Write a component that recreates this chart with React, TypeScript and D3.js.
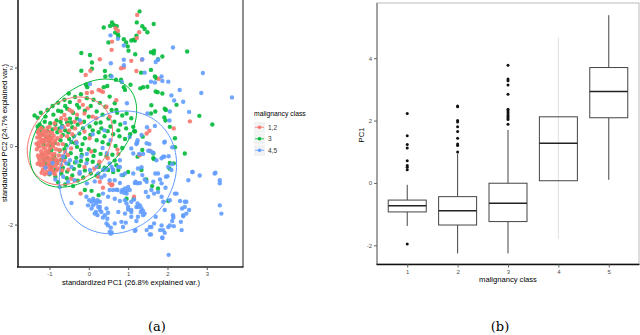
import * as d3 from "d3";
import { useRef, useEffect } from "react";

// ---- panel (a): PCA biplot ----
const groups = ["1,2", "3", "4,5"];
const groupColors = ["#F8766D", "#00BA38", "#619CFF"];
const pcXTicks = [-1, 0, 1, 2, 3];
const pcYTicks = [-2, 0, 2];

const redPoints: [number, number][] = [
  [-1.28, 0.41], [-1.21, 0.46], [-1.13, 0.4], [-1.05, 0.47], [-0.99, 0.36], [-1.26, 0.31], [-1.17, 0.34], [-1.09, 0.27],
  [-1.01, 0.25], [-0.93, 0.33], [-1.31, 0.22], [-1.23, 0.19], [-1.14, 0.16], [-1.06, 0.21], [-0.97, 0.17], [-0.89, 0.26],
  [-1.27, 0.1], [-1.18, 0.07], [-1.11, 0.12], [-1.03, 0.04], [-0.95, 0.08], [-0.86, 0.13], [-1.25, -0.01], [-1.15, -0.04],
  [-1.07, 0.01], [-0.99, -0.06], [-0.91, -0.01], [-1.21, -0.13], [-1.12, -0.18], [-1.03, -0.14], [-0.95, -0.2], [-1.29, -0.24],
  [-1.19, -0.28], [-1.1, -0.25], [-1.01, -0.31], [-0.92, -0.27], [-0.84, -0.33], [-0.76, -0.24], [-1.25, -0.37], [-1.15, -0.4],
  [-1.06, -0.36], [-0.98, -0.43], [-0.89, -0.39], [-0.81, -0.45], [-0.73, -0.36], [-1.22, -0.49], [-1.13, -0.53], [-1.04, -0.47],
  [-0.95, -0.56], [-0.86, -0.51], [-0.78, -0.57], [-1.17, -0.61], [-1.08, -0.66], [-0.99, -0.6], [-0.9, -0.68], [-0.82, -0.62],
  [-1.32, -0.08], [-1.33, 0.06], [-1.3, -0.45], [-0.7, -0.48], [-0.72, 0.38], [-0.8, 0.2], [-0.66, 0.05], [-0.6, -0.15],
  [-0.55, 0.25], [-0.68, -0.62], [-0.62, -0.38], [-0.85, 0.45], [-0.78, 0.05], [-0.74, -0.1],
  [-1.24, -0.44], [-1.16, -0.46], [-1.09, -0.55], [-1.0, -0.51], [-0.93, -0.47], [-1.27, -0.3], [-1.2, -0.2], [-1.14, -0.33],
  [-1.05, -0.22], [-0.97, -0.35], [-0.87, -0.2], [-0.8, -0.38], [-1.2, -0.68], [-1.12, -0.72], [-1.02, -0.7], [-0.94, -0.62],
  [-0.86, -0.72], [-1.3, 0.35], [-1.24, 0.26], [-1.16, 0.28], [-1.08, 0.36], [-1.02, 0.14], [-0.93, 0.2], [-0.9, 0.05],
  [-1.2, 0.14], [-1.28, 0.0], [-1.1, -0.1], [-0.83, -0.08], [-0.7, 0.25], [-0.64, 0.48], [-0.5, 0.4], [-0.42, 0.3],
  [-0.35, 0.45], [-0.58, 0.68], [-0.3, 0.8], [-0.2, 0.6], [-0.66, -0.25], [-0.52, -0.6],
  [-0.49, 0.92], [-0.43, 0.88], [-0.24, 1.15], [-0.15, 1.05], [-0.03, 0.96], [-0.11, 0.83], [0.1, 0.75], [0.19, 0.71],
  [-0.36, 0.62], [-0.53, 0.54], [-0.7, 0.71], [-0.62, 0.79], [-0.87, 0.58], [-1.0, 0.49], [-0.11, 0.37], [0.02, 0.2],
  [-0.32, 0.11], [-0.45, -0.06], [-0.53, -0.23], [0.06, -0.14], [0.27, -0.4], [0.48, -0.31], [0.14, -0.57], [-0.11, -0.53],
  [-0.24, -0.7], [-0.45, -0.83], [-0.05, 1.35], [0.08, 1.37],
  [1.23, 3.34], [0.68, 3.0], [0.74, 2.94], [1.28, 2.9], [0.59, 2.66], [1.22, 2.75], [0.58, 2.45], [0.28, 2.21],
  [1.08, 2.17], [1.35, 2.2], [1.21, 1.91], [0.04, 1.92], [-0.08, 1.81], [0.82, 1.98], [0.89, 2.0], [1.78, 1.71],
  [0.25, 1.43], [0.3, 1.41], [0.36, 1.38], [2.57, 0.63], [2.16, 0.45], [1.54, 0.39], [1.47, 0.32], [1.55, -0.12],
  [1.28, -0.23], [0.7, 1.17], [0.45, 1.0], [0.53, 0.75], [0.24, -0.78], [0.28, -0.91], [0.53, -0.95], [0.58, -1.0],
  [0.36, -1.06], [1.15, -1.29], [0.73, -0.09], [0.75, -0.2], [1.3, -0.23], [-0.21, -1.21], [0.6, -0.98],
];

const greenPoints: [number, number][] = [
  [-1.38, 0.78], [-1.3, 0.72], [-1.22, 0.85], [-1.05, 0.92], [-0.92, 1.02], [-0.78, 1.1], [-0.62, 1.18], [-0.48, 1.12],
  [-0.35, 1.25], [-0.2, 1.32], [-0.05, 1.22], [0.12, 1.18], [0.28, 1.1], [0.42, 1.0], [0.58, 0.92], [0.72, 0.85],
  [0.85, 0.78], [-0.9, 0.8], [-0.7, 0.88], [-0.55, 0.95], [-0.4, 0.85], [-0.25, 0.98], [-0.1, 0.9], [0.05, 1.02],
  [0.2, 0.88], [0.35, 0.8], [0.5, 0.7], [0.65, 0.62], [0.8, 0.55], [0.95, 0.45],
  [-1.25, 0.55], [-1.12, 0.62], [-0.98, 0.58], [-0.82, 0.65], [-0.68, 0.52], [-0.55, 0.6], [-0.42, 0.48], [-0.28, 0.55],
  [-0.12, 0.62], [0.02, 0.5], [0.18, 0.58], [0.32, 0.45], [0.48, 0.38], [0.62, 0.3], [0.78, 0.25], [0.92, 0.18],
  [1.05, 0.3], [-1.2, 0.3], [-1.05, 0.38], [-0.92, 0.42], [-0.8, 0.35], [-0.66, 0.28], [-0.52, 0.35], [-0.38, 0.25],
  [-0.24, 0.32], [-0.1, 0.2], [0.04, 0.28], [0.2, 0.15], [0.35, 0.1], [0.5, 0.05], [0.68, 0.0], [0.85, -0.05],
  [-1.15, 0.05], [-1.0, 0.12], [-0.86, 0.08], [-0.72, 0.15], [-0.58, 0.02], [-0.44, 0.1], [-0.3, -0.02], [-0.16, 0.05],
  [0.0, -0.08], [0.15, -0.12], [0.3, -0.2], [0.45, -0.25], [0.6, -0.22],
  [-1.18, -0.22], [-1.02, -0.15], [-0.88, -0.25], [-0.74, -0.12], [-0.6, -0.28], [-0.46, -0.18], [-0.32, -0.3], [-0.18, -0.22],
  [-0.04, -0.35], [0.1, -0.4], [0.25, -0.48], [0.4, -0.55], [-1.1, -0.45], [-0.95, -0.52], [-0.8, -0.42], [-0.66, -0.55],
  [-0.52, -0.45], [-0.38, -0.58], [-0.24, -0.5], [-0.1, -0.62], [0.05, -0.7], [0.2, -0.75], [-1.0, -0.72], [-0.85, -0.78],
  [-0.7, -0.7], [-0.56, -0.82], [-0.42, -0.75], [-0.28, -0.88], [-0.14, -0.8], [-0.6, -0.98], [-0.4, -1.02], [-0.78, -0.92],
  [-1.08, 0.22], [-0.96, 0.02], [-0.9, -0.35], [-1.05, -0.3], [-0.75, 0.45], [-0.62, -0.08], [-0.48, 0.7], [-0.35, -0.42],
  [-1.25, 0.4], [-1.18, 0.48], [-1.0, 0.25], [-0.85, 0.55], [-0.72, 0.62], [-0.6, 0.4], [-0.45, 0.6], [-0.3, 0.7],
  [-0.15, 0.45], [0.1, 0.4], [0.25, 0.35], [0.4, 0.25], [-0.5, 0.18], [-0.35, 0.08], [-0.2, -0.1], [-0.7, -0.35],
  [-0.85, -0.6], [-0.55, -0.65], [-0.2, -0.38], [0.12, -0.25], [-0.95, -0.1], [-1.15, -0.35], [-0.78, 0.9], [-0.6, 1.02],
  [-0.3, 1.05], [0.0, 0.75], [0.3, 0.6], [0.55, 0.5], [0.75, 0.4], [-1.3, 0.5], [-1.1, 0.75],
  [0.7, 0.92], [0.96, 0.83], [1.08, 0.71], [1.13, 0.49], [1.17, 0.37], [0.53, 1.26], [0.66, 1.09],
  [1.29, 3.43], [1.22, 3.15], [1.65, 3.11], [0.59, 3.15], [0.64, 3.08], [0.54, 3.06], [0.71, 3.05], [0.38, 3.02],
  [1.36, 3.05], [1.42, 2.98], [1.49, 2.9], [0.67, 2.89], [0.74, 2.85], [0.75, 2.79], [1.21, 2.81], [1.17, 2.69],
  [0.5, 2.64], [0.89, 2.72], [0.95, 2.64], [1.08, 2.69], [1.14, 2.71], [0.99, 2.54], [1.01, 2.43], [-0.19, 2.37],
  [0.03, 2.32], [1.18, 2.34], [1.58, 2.39], [1.66, 2.43], [1.65, 2.36], [1.76, 2.21], [1.87, 2.28], [2.5, 2.41],
  [0.08, 2.13], [-0.19, 1.92], [0.08, 1.97], [0.41, 1.91], [1.33, 1.87], [1.58, 1.94], [0.55, 1.79], [0.69, 1.69],
  [0.42, 1.77], [0.82, 1.69], [1.68, 1.77], [1.72, 1.73], [-0.07, 1.56], [-0.04, 1.5], [0.38, 1.5], [0.47, 1.53],
  [0.89, 1.5], [0.92, 1.43], [1.06, 1.56], [1.31, 1.47], [1.38, 1.5], [1.49, 1.51], [1.7, 1.39], [1.75, 1.37],
  [1.87, 1.34], [-0.51, 1.34], [2.23, 1.05], [1.59, 1.04], [1.93, 0.95], [1.96, 0.92], [1.69, 0.88], [1.58, 0.83],
  [2.81, 0.77], [1.92, 0.73], [1.95, 0.65], [3.14, 0.55], [2.06, 0.49], [1.17, 0.38], [1.37, 0.24], [2.19, 0.2],
  [1.24, -0.27], [2.44, -0.19], [1.64, -0.31],
  [0.66, -0.37], [0.7, -0.49], [0.49, -0.61], [1.0, -0.66], [0.25, -0.53], [0.25, -1.25], [0.96, -1.34], [1.14, -1.34],
  [1.34, -0.61], [1.46, -0.85], [1.61, -1.02], [1.76, -1.08], [2.02, -1.4], [2.05, -0.57], [2.16, -0.44], [1.66, -0.33],
  [0.87, -0.74], [0.62, -0.66], [0.75, -0.61], [-0.1, -1.12], [0.07, -1.14], [1.36, -0.1], [1.64, -0.19], [2.06, -0.43],
  [2.19, -0.03],
];

const bluePoints: [number, number][] = [
  [0.55, 2.82], [0.74, 2.73], [0.89, 2.56], [0.56, 2.11], [0.89, 2.2], [0.89, 2.06], [1.36, 2.21], [2.14, 2.51],
  [1.7, 2.14], [1.76, 2.2], [0.58, 1.77], [0.84, 1.63], [0.03, 1.58], [1.42, 1.87], [2.9, 1.86], [1.85, 1.77],
  [1.58, 1.64], [1.68, 1.62], [1.87, 1.66], [2.02, 1.64], [2.31, 1.43], [2.1, 1.29], [2.86, 1.35], [3.64, 1.24],
  [2.17, 1.16], [2.4, 1.13], [2.06, 0.88], [2.55, 0.87], [1.49, 0.83], [2.05, 0.65], [1.68, 0.51], [1.34, 0.28],
  [1.24, 0.15], [1.47, 0.07], [1.54, 0.05], [1.92, 0.09], [1.21, 0.05], [2.12, -0.03], [1.51, -0.12], [1.58, -0.14],
  [1.64, -0.17], [1.38, -0.2], [1.92, -0.27], [2.03, -0.26],
  [0.97, 1.09], [0.92, 0.59], [1.48, 0.48], [1.22, 0.08], [-0.31, 0.08], [0.46, -0.18], [-0.48, -0.36], [-0.99, -0.69],
  [-0.74, -1.04], [-0.23, -0.66], [0.2, -0.53], [0.61, -0.61], [0.79, -0.36], [1.04, 0.23], [-0.23, 0.66], [-0.69, 0.48],
  [-0.92, -0.43], [-0.65, -0.27], [-0.57, -0.44], [-0.44, -0.53], [-0.31, -0.4], [-0.19, -0.27], [-0.06, -0.44], [0.03, -0.61],
  [-0.23, -0.7], [-0.36, -0.87], [-0.53, -0.91], [-0.65, -0.78], [0.35, -0.05], [0.55, 0.15], [0.1, 0.3], [-0.05, -0.2],
  [0.4, 0.4], [-1.1, -0.55], [-0.85, -0.85], [0.15, -0.9], [-0.05, -0.95], [0.4, -0.75],
  [1.93, 0.11], [1.13, -0.19], [1.28, -0.2], [1.85, -0.31], [2.12, -0.46], [2.63, -0.66], [2.82, -0.75], [3.22, -0.68],
  [3.33, -0.87], [3.33, -0.95], [2.53, -0.87], [2.0, -0.77], [1.69, -0.7], [1.81, -0.85], [1.25, -0.57], [1.34, -0.54],
  [1.36, -0.74], [1.42, -0.85], [1.47, -0.91], [1.17, -0.94], [1.24, -0.95], [1.3, -0.94], [1.59, -1.12], [1.66, -1.21],
  [1.76, -1.17], [1.95, -1.06], [1.85, -1.29], [1.89, -1.42], [2.19, -1.21], [2.32, -1.4], [2.44, -1.42], [2.55, -1.63],
  [2.37, -1.59], [2.4, -1.76], [2.15, -1.82], [2.12, -1.91], [2.34, -1.93], [2.36, -2.14], [2.16, -2.04], [2.02, -2.06],
  [1.89, -2.14], [1.93, -2.21], [1.85, -2.02], [1.87, -2.34], [2.03, -2.77], [3.33, -1.51], [3.37, -1.72], [1.58, -2.25],
  [1.7, -1.8], [1.66, -1.97], [1.55, -2.06], [1.17, -2.16], [0.83, -1.93], [0.94, -1.95], [0.49, -2.02], [0.56, -2.08],
  [0.58, -2.2], [0.56, -2.23], [0.66, -1.97], [0.47, -1.85], [1.38, -1.65], [1.42, -1.72], [1.34, -1.59], [1.15, -1.36],
  [1.24, -1.46], [1.08, -1.63], [1.0, -1.55], [0.75, -1.68], [0.45, -1.59], [0.32, -1.68], [0.28, -1.55], [0.66, -1.34],
  [0.79, -1.4], [0.92, -1.38], [0.96, -1.46], [0.85, -1.12], [0.92, -1.08], [0.96, -1.14], [0.9, -1.19], [1.25, -1.55],
  [1.32, -1.68], [1.08, -1.8], [1.21, -1.91], [0.66, -0.87], [0.79, -0.94], [0.83, -0.74], [1.13, -0.7], [1.19, -0.91],
  [0.75, -0.53], [0.62, -0.6], [0.53, -0.44], [0.41, -0.6], [0.24, -0.7], [0.32, -0.8], [0.22, -1.38], [0.28, -1.42],
  [0.36, -1.21], [0.49, -1.29], [0.53, -1.12], [0.73, -1.12], [0.15, -1.72], [0.22, -1.76],
  [-0.44, -1.45], [-0.06, -1.29], [0.01, -1.38], [0.07, -1.42], [0.11, -1.34], [0.15, -1.4], [0.19, -1.46], [0.11, -1.51],
  [0.24, -1.55], [0.28, -1.63], [0.18, -1.68], [0.07, -1.59], [-0.02, -1.51], [0.41, -1.76], [0.49, -1.7], [0.36, -1.82],
  [0.45, -1.97], [0.53, -2.19], [0.87, -2.06], [1.19, -2.14], [1.55, -2.25], [1.87, -2.33], [0.62, -1.12], [0.7, -1.11],
  [0.83, -1.17], [1.0, -1.04], [1.04, -1.12], [0.96, -1.21], [1.08, -1.42], [1.21, -1.55], [1.3, -1.51], [1.51, -1.29],
  [1.45, -1.17], [0.53, -0.87], [0.36, -0.61], [0.45, -0.57], [0.58, -0.53], [0.79, -0.53], [0.92, -0.7], [1.08, -0.06],
  [1.23, 0.09], [1.72, -0.36], [1.89, -0.27], [2.02, -0.53], [2.1, -0.61], [1.96, -0.78], [1.76, -0.7], [1.64, -0.91],
  [1.85, -0.95], [2.06, -1.38], [2.23, -1.21], [2.48, -1.42], [2.44, -1.55], [2.48, -1.72], [2.4, -1.79], [2.64, -0.66],
  [3.2, -0.7], [2.14, -1.76], [2.06, -2.02], [1.93, -1.63], [1.81, -2.14], [1.59, -2.06], [1.47, -2.14], [1.38, -1.76],
  [1.25, -1.8], [0.92, -1.72], [1.0, -1.62], [1.08, -1.68],
];

// normal-data ellipses: centre, semi-axes, tilt (degrees)
const ellipseCenters = [[-0.48, 0.13], [-0.14, 0.33], [0.74, -0.67]];
const ellipseRadii = [[1.22, 0.97], [1.63, 1.04], [1.63, 1.42]];
const ellipseTilt = [49, 46, 55];

// ---- panel (b): box plot of PC1 per malignancy class ----
const boxClasses = [1, 2, 3, 4, 5];
const boxLow = [-1.38, -2.26, -2.26, -1.8, 0.1];
const boxQ1 = [-0.93, -1.35, -1.24, 0.07, 2.09];
const boxMedian = [-0.73, -0.89, -0.65, 1.27, 2.93];
const boxQ3 = [-0.55, -0.44, -0.01, 2.12, 3.7];
const boxHigh = [-0.06, 0.93, 1.7, 4.66, 5.38];
const boxOutliers = [
  [2.23, 1.51, 1.23, 1.12, 0.71, 0.56, 0.5, 0.42, -1.96],
  [2.47, 2.44, 2.0, 1.95, 1.8, 1.65, 1.43, 1.25, 1.2, 0.99],
  [3.77, 3.33, 3.28, 3.14, 2.84, 2.36, 2.31, 2.25, 2.19, 2.13, 2.08, 2.03, 1.88],
  [],
  [],
];
const boxYTicks = [-2, 0, 2, 4];

const sans = "'Liberation Sans', Arial, sans-serif";
const serif = "'DejaVu Serif', 'Liberation Serif', serif";

export default function App() {
  const svgRef = useRef<SVGSVGElement>(null);

  useEffect(() => {
    const svg = d3.select(svgRef.current);
    svg.selectAll("*").remove();
    svg.append("rect").attr("width", 640).attr("height", 335).attr("fill", "white");

    // ================= panel (a)
    const x = d3.scaleLinear().domain([-1.8, 3.92]).range([18, 243]);
    const y = d3.scaleLinear().domain([-3.08, 3.72]).range([267, 0]);
    const pa = svg.append("g");

    // green underneath so the red mass on the left stays visible
    const layers = [
      { pts: greenPoints, color: groupColors[1] },
      { pts: redPoints, color: groupColors[0] },
      { pts: bluePoints, color: groupColors[2] },
    ];
    layers.forEach((layer) => {
      pa.append("g")
        .selectAll("circle")
        .data(layer.pts)
        .join("circle")
        .attr("cx", (d) => x(d[0]))
        .attr("cy", (d) => y(d[1]))
        .attr("r", 2.2)
        .attr("fill", layer.color)
        .attr("fill-opacity", 0.9);
    });

    // ellipses
    const line = d3
      .line<[number, number]>()
      .x((d) => x(d[0]))
      .y((d) => y(d[1]));
    ellipseCenters.forEach((c, i) => {
      const th = (ellipseTilt[i] * Math.PI) / 180;
      const [ra, rb] = ellipseRadii[i];
      const pts: [number, number][] = d3.range(0, 101).map((k) => {
        const t = (k / 100) * 2 * Math.PI;
        const ex = ra * Math.cos(t);
        const ey = rb * Math.sin(t);
        return [c[0] + ex * Math.cos(th) - ey * Math.sin(th), c[1] + ex * Math.sin(th) + ey * Math.cos(th)];
      });
      pa.append("path")
        .attr("d", line(pts))
        .attr("fill", "none")
        .attr("stroke", groupColors[i])
        .attr("stroke-width", 1);
    });

    // frame and axes
    pa.append("line").attr("x1", 243).attr("x2", 243).attr("y1", 0).attr("y2", 267).attr("stroke", "#444").attr("stroke-width", 1.2);
    pa.append("line").attr("x1", 18).attr("x2", 18).attr("y1", 0).attr("y2", 267.5).attr("stroke", "#222").attr("stroke-width", 1.6);
    pa.append("line").attr("x1", 17).attr("x2", 243.5).attr("y1", 267).attr("y2", 267).attr("stroke", "#222").attr("stroke-width", 1.6);

    const axA = pa.append("g").attr("transform", "translate(0,267)")
      .call(d3.axisBottom(x).tickValues(pcXTicks).tickSize(3).tickPadding(2).tickFormat((d) => String(d)));
    const ayA = pa.append("g").attr("transform", "translate(18,0)")
      .call(d3.axisLeft(y).tickValues(pcYTicks).tickSize(3).tickPadding(2).tickFormat((d) => String(d)));
    [axA, ayA].forEach((g) => {
      g.select(".domain").remove();
      g.selectAll("line").attr("stroke", "#555");
      g.selectAll("text").attr("fill", "#4d4d4d").style("font-size", "6px").style("font-family", sans);
    });

    pa.append("text")
      .attr("x", 131).attr("y", 285)
      .attr("text-anchor", "middle")
      .style("font-family", sans).style("font-size", "7.6px")
      .text("standardized PC1 (26.8% explained var.)");
    pa.append("text")
      .attr("transform", "translate(7,133) rotate(-90)")
      .attr("text-anchor", "middle")
      .style("font-family", sans).style("font-size", "7.6px")
      .text("standardized PC2 (24.7% explained var.)");

    // legend
    const legend = svg.append("g").attr("transform", "translate(254,0)");
    legend.append("text").attr("x", 0).attr("y", 116)
      .style("font-family", sans).style("font-size", "6.8px").text("malignancy class");
    groups.forEach((g, i) => {
      const cy = 127.3 + i * 11.5;
      legend.append("rect").attr("x", 0).attr("y", cy - 5.5).attr("width", 11).attr("height", 11).attr("fill", "#f2f2f2");
      legend.append("line").attr("x1", 1).attr("x2", 10).attr("y1", cy).attr("y2", cy).attr("stroke", groupColors[i]).attr("stroke-width", 0.8);
      legend.append("circle").attr("cx", 5.5).attr("cy", cy).attr("r", 1.8).attr("fill", groupColors[i]);
      legend.append("text").attr("x", 14).attr("y", cy + 2.3)
        .attr("fill", "#333")
        .style("font-family", sans).style("font-size", "6.5px").text(g);
    });

    // ================= panel (b)
    const bx = d3.scalePoint<number>().domain(boxClasses).range([377, 639]).padding(0.6);
    const by = d3.scaleLinear().domain([-2.6, 5.77]).range([264, 3]);
    const pb = svg.append("g");
    const half = 19;

    pb.append("rect").attr("x", 377).attr("y", 3).attr("width", 262).attr("height", 261)
      .attr("fill", "none").attr("stroke", "#aaa").attr("stroke-width", 0.8);
    pb.append("line").attr("x1", 377).attr("x2", 377).attr("y1", 3).attr("y2", 264.5).attr("stroke", "#666").attr("stroke-width", 1);
    pb.append("line").attr("x1", 376.5).attr("x2", 639.5).attr("y1", 264.5).attr("y2", 264.5).attr("stroke", "#111").attr("stroke-width", 1.6);

    boxClasses.forEach((c, i) => {
      const cx = bx(c)!;
      const g = pb.append("g");
      const whiskerColor = c === 4 ? "#d9d9d9" : "#444";
      if (c === 4) {
        g.append("line").attr("x1", cx).attr("x2", cx).attr("y1", by(boxLow[i])).attr("y2", by(boxHigh[i]))
          .attr("stroke", whiskerColor).attr("stroke-width", 0.8);
      } else {
        g.append("line").attr("x1", cx).attr("x2", cx).attr("y1", by(boxQ3[i])).attr("y2", by(boxHigh[i]))
          .attr("stroke", whiskerColor).attr("stroke-width", 1);
        g.append("line").attr("x1", cx).attr("x2", cx).attr("y1", by(boxQ1[i])).attr("y2", by(boxLow[i]))
          .attr("stroke", whiskerColor).attr("stroke-width", 1);
      }
      g.append("rect")
        .attr("x", cx - half).attr("y", by(boxQ3[i]))
        .attr("width", 2 * half).attr("height", by(boxQ1[i]) - by(boxQ3[i]))
        .attr("fill", c === 4 ? "none" : "white").attr("stroke", "#444").attr("stroke-width", 1);
      g.append("line").attr("x1", cx - half).attr("x2", cx + half).attr("y1", by(boxMedian[i])).attr("y2", by(boxMedian[i]))
        .attr("stroke", "#222").attr("stroke-width", 1.6);
      g.selectAll("circle").data(boxOutliers[i]).join("circle")
        .attr("cx", cx).attr("cy", (d) => by(d)).attr("r", 1.5).attr("fill", "#111");
    });

    const axB = pb.append("g").attr("transform", "translate(0,264.5)")
      .call(d3.axisBottom(bx).tickSize(3).tickPadding(2.5));
    const ayB = pb.append("g").attr("transform", "translate(377,0)")
      .call(d3.axisLeft(by).tickValues(boxYTicks).tickSize(3).tickPadding(2).tickFormat((d) => String(d)));
    [axB, ayB].forEach((g) => {
      g.select(".domain").remove();
      g.selectAll("line").attr("stroke", "#666");
      g.selectAll("text").attr("fill", "#4d4d4d").style("font-size", "6px").style("font-family", sans);
    });

    pb.append("text")
      .attr("x", 508).attr("y", 282)
      .attr("text-anchor", "middle")
      .style("font-family", sans).style("font-size", "7.6px")
      .text("malignancy class");
    pb.append("text")
      .attr("transform", "translate(364,135) rotate(-90)")
      .attr("text-anchor", "middle")
      .style("font-family", sans).style("font-size", "7.6px")
      .text("PC1");

    // sub-figure captions
    svg.append("text").attr("x", 157).attr("y", 331).attr("text-anchor", "middle")
      .style("font-family", serif).style("font-size", "13px").text("(a)");
    svg.append("text").attr("x", 500).attr("y", 331).attr("text-anchor", "middle")
      .style("font-family", serif).style("font-size", "13px").text("(b)");
  }, []);

  return (
    <svg
      ref={svgRef}
      width={640}
      height={335}
      style={{ position: "absolute", left: 0, top: 0, display: "block" }}
    ></svg>
  );
}
